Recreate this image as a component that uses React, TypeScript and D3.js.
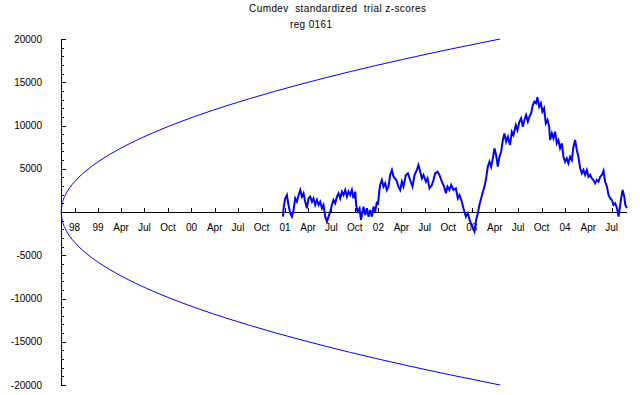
import React from "react";
import * as d3 from "d3";

const titleLine1 = "Cumdev  standardized  trial z-scores";
const titleLine2 = "reg 0161";

const xTickLabels = [
  "98", "99", "Apr", "Jul", "Oct", "00", "Apr", "Jul", "Oct", "01", "Apr", "Jul", "Oct",
  "02", "Apr", "Jul", "Oct", "03", "Apr", "Jul", "Oct", "04", "Apr", "Jul",
];
const yMajorTicks = [-20000, -15000, -10000, -5000, 5000, 10000, 15000, 20000];

// envelope (decimal years, magnitude)
const envelopeYears = [
  1998.604, 1998.615, 1998.625, 1998.647, 1998.679, 1998.722, 1998.786, 1998.872,
  1998.979, 1999.129, 1999.343, 1999.664, 2000.092, 2000.628, 2001.163, 2001.698,
  2002.234, 2002.769, 2003.304,
];
const envelopeValues = [
  0, 955, 1350, 1909, 2525, 3166, 3935, 4772, 5646, 6682, 7929, 9498, 11254, 13122,
  14756, 16228, 17575, 18826, 20000,
];

// cumulative deviation series (decimal years, value)
const cumdevYears = [
  2000.978, 2000.984, 2001.002, 2001.020, 2001.037, 2001.056, 2001.074, 2001.091, 2001.109,
  2001.127, 2001.145, 2001.163, 2001.181, 2001.198, 2001.216, 2001.234, 2001.252, 2001.270,
  2001.288, 2001.305, 2001.323, 2001.342, 2001.359, 2001.377, 2001.395, 2001.412, 2001.430,
  2001.449, 2001.466, 2001.484, 2001.502, 2001.519, 2001.537, 2001.556, 2001.573, 2001.591,
  2001.609, 2001.626, 2001.645, 2001.663, 2001.680, 2001.698, 2001.716, 2001.733, 2001.752,
  2001.762, 2001.776, 2001.798, 2001.813, 2001.827, 2001.840, 2001.859, 2001.877, 2001.894,
  2001.912, 2001.930, 2001.948, 2001.966, 2001.984, 2001.995, 2002.009, 2002.019, 2002.037,
  2002.055, 2002.073, 2002.091, 2002.108, 2002.126, 2002.145, 2002.162, 2002.191,
  2002.215, 2002.233, 2002.252, 2002.269, 2002.294, 2002.316, 2002.340, 2002.365, 2002.387,
  2002.412, 2002.429, 2002.448, 2002.466, 2002.483, 2002.509, 2002.526, 2002.547, 2002.573,
  2002.590, 2002.608, 2002.633, 2002.654, 2002.680, 2002.704, 2002.723, 2002.740, 2002.761,
  2002.779, 2002.804, 2002.830, 2002.851, 2002.868, 2002.894, 2002.911, 2002.937, 2002.958,
  2002.983, 2003.008, 2003.029, 2003.047, 2003.065, 2003.082, 2003.101, 2003.119, 2003.136,
  2003.154, 2003.172, 2003.190, 2003.208, 2003.226, 2003.243, 2003.261, 2003.279, 2003.297,
  2003.315, 2003.333, 2003.350, 2003.368, 2003.387, 2003.404,
  2003.411, 2003.429, 2003.447, 2003.472, 2003.489, 2003.511, 2003.529, 2003.547, 2003.564,
  2003.582, 2003.601, 2003.618, 2003.636, 2003.654, 2003.671, 2003.689, 2003.703, 2003.722,
  2003.740, 2003.757, 2003.775, 2003.793, 2003.811, 2003.829, 2003.839, 2003.858, 2003.875,
  2003.893, 2003.911, 2003.928, 2003.946, 2003.965, 2003.982, 2004.000, 2004.018, 2004.035,
  2004.054, 2004.072, 2004.089, 2004.107, 2004.125, 2004.142, 2004.161, 2004.179, 2004.196,
  2004.214, 2004.232, 2004.250, 2004.268, 2004.286, 2004.303, 2004.321, 2004.339, 2004.357,
  2004.375, 2004.393, 2004.410, 2004.428, 2004.447, 2004.464, 2004.482, 2004.500, 2004.517,
  2004.536, 2004.554, 2004.571, 2004.581, 2004.596, 2004.614, 2004.632, 2004.643, 2004.661,
];
const cumdevValues = [
  -540, 430, 1580, 1960, 810, -150, -540, 230, 1580,
  1190, 1960, 2540, 1770, 2160, 1190, 430, 1580, 1770,
  1190, 1580, 810, 1390, 810, 1190, 430, 810, -540,
  -1120, -540, 40, 810, 1390, 1000, 1770, 2160, 1580,
  2350, 1960, 2540, 1770, 2350, 1960, 2540, 1580, 2350,
  810, 40, 430, -920, -150, 620, -350, 430, -540,
  230, -540, 620, 40, 1190, 810, 2350, 3120, 3700,
  2930, 3310, 2540, 2930, 4280, 4860, 4080, 3700,
  2930, 2540, 3500, 2930, 4280, 4470, 3700, 2930, 4280,
  4860, 5430, 4660, 3890, 4280, 3500, 3890, 2730, 3120,
  3700, 4470, 4660, 4280, 3500, 2930, 2160, 2930, 2540,
  3120, 2540, 2730, 1580, 1960, 1190, 430, -540, -150,
  -1120, -1700, -2270, -920, -150, 810, 1580, 2350, 2930,
  3890, 5240, 5820, 5240, 6200, 7360, 6590, 5240, 6390,
  6970, 8320, 9090, 8130, 8700, 7940,
  7750, 9280, 8900, 10060, 9480, 10440, 10830, 9860, 10640,
  11210, 10440, 11020, 11410, 12370, 12750, 12570, 13260, 12170,
  12570, 11600, 11990, 10250, 10640, 9860, 8320, 9090, 8520,
  9280, 7940, 8320, 7360, 7940, 6390, 5820, 6200, 5630,
  6390, 6010, 7550, 8320, 7170, 6390, 5050, 4470, 4860,
  4280, 4860, 4080, 4280, 3890, 3700, 3310, 3700, 3500,
  4080, 4280, 4770, 3500, 2930, 1960, 1580, 1390, 810,
  1000, 430, -540, 230, 1390, 2540, 1770, 810, 470,
];

function yearToDate(yr: number): Date {
  const y = Math.floor(yr);
  const s = Date.UTC(y, 0, 1);
  const e = Date.UTC(y + 1, 0, 1);
  return new Date(s + (yr - y) * (e - s));
}

const W = 640;
const H = 395;
const FONT = "'Liberation Sans', Arial, sans-serif";

export default function App() {
  const start = new Date(Date.UTC(1998, 7, 9));
  const end = new Date(Date.UTC(2004, 7, 30));
  const x = d3.scaleUtc().domain([start, end]).range([61, 627]);
  const y = d3.scaleLinear().domain([-20000, 20000]).range([385, 39]);

  const xTicks = d3.utcMonth.every(3)!.range(start, end);
  const yMinor = d3.range(-20000, 20001, 1000).filter((v) => v % 5000 !== 0);

  const line = d3
    .line<[Date, number]>()
    .x((d) => x(d[0]))
    .y((d) => y(d[1]));
  const envLine = d3
    .line<[Date, number]>()
    .x((d) => x(d[0]))
    .y((d) => y(d[1]))
    .curve(d3.curveMonotoneX);

  const envUpper: [Date, number][] = envelopeYears.map((yr, i) => [yearToDate(yr), envelopeValues[i]]);
  const envLower: [Date, number][] = envelopeYears.map((yr, i) => [yearToDate(yr), -envelopeValues[i]]);
  const series: [Date, number][] = cumdevYears.map((yr, i) => [yearToDate(yr), cumdevValues[i]]);
  const y0 = Math.round(y(0));

  return (
    <svg
      width={W}
      height={H}
      style={{ position: "absolute", left: 0, top: 0, background: "#fff" }}
      fontFamily={FONT}
    >
      <text x={249} y={12} fontSize={10} textLength={177} style={{ whiteSpace: "pre" }}>
        {titleLine1}
      </text>
      <text x={290} y={28} fontSize={10} textLength={42} style={{ whiteSpace: "pre" }}>
        {titleLine2}
      </text>

      <g shapeRendering="crispEdges" stroke="#000">
        <line x1={61.5} x2={61.5} y1={y(20000)} y2={y(-20000)} />
        {yMajorTicks.map((v) => (
          <line key={"M" + v} x1={61} x2={66} y1={Math.round(y(v)) + 0.5} y2={Math.round(y(v)) + 0.5} />
        ))}
        {yMinor.map((v) => (
          <line key={"m" + v} x1={61} x2={64} y1={Math.round(y(v)) + 0.5} y2={Math.round(y(v)) + 0.5} />
        ))}
        <line x1={61} x2={627} y1={y0 + 0.5} y2={y0 + 0.5} />
        {xTicks.map((t, i) => (
          <line
            key={"xt" + i}
            x1={Math.round(x(t)) + 0.5}
            x2={Math.round(x(t)) + 0.5}
            y1={y0}
            y2={y0 - 4}
          />
        ))}
      </g>
      {yMajorTicks.map((v) => (
        <text key={"yl" + v} x={42} y={y(v) + 3.5} fontSize={10} textAnchor="end">
          {v}
        </text>
      ))}
      {xTicks.map((t, i) => (
        <text key={"xl" + i} x={x(t)} y={231} fontSize={10} textAnchor="middle">
          {xTickLabels[i]}
        </text>
      ))}

      <path d={envLine(envUpper) || ""} fill="none" stroke="#0000ff" strokeWidth={1} />
      <path d={envLine(envLower) || ""} fill="none" stroke="#0000ff" strokeWidth={1} />
      <path d={line(series) || ""} fill="none" stroke="#0000ff" strokeWidth={2} strokeLinejoin="miter" />
    </svg>
  );
}
